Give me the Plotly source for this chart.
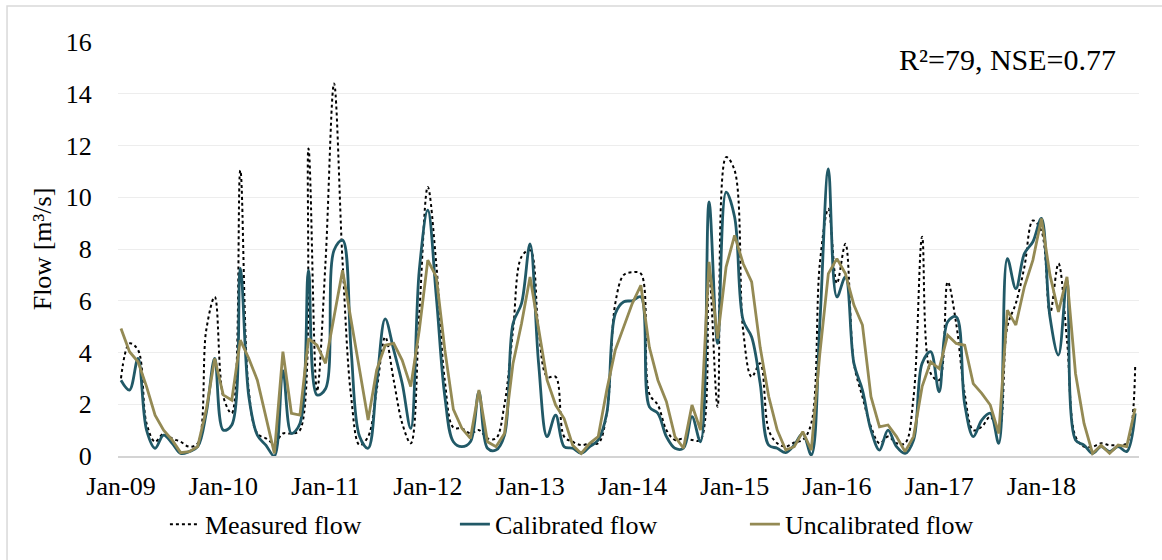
import plotly.graph_objects as go

# Monthly flow, Jan-2009 .. Dec-2018 (index 0 = Jan-09)
months = list(range(120))
year_labels = ["Jan-09", "Jan-10", "Jan-11", "Jan-12", "Jan-13",
               "Jan-14", "Jan-15", "Jan-16", "Jan-17", "Jan-18"]
year_ticks = [0, 12, 24, 36, 48, 60, 72, 84, 96, 108]

measured = [
    3.0, 4.35, 4.1, 1.26, 0.55, 0.87, 0.68, 0.55, 0.36, 0.49, 4.86, 6.15,
    2.3, 1.65, 11.04, 2.5, 0.87, 0.68, 0.5, 0.87, 0.87, 1.0, 11.88, 2.5,
    7.5, 14.4, 7.5, 2.3, 0.42, 0.75, 2.55, 4.6, 2.93, 1.26, 0.49, 5.5,
    10.4, 7.4, 2.9, 1.1, 1.07, 0.87, 1.0, 0.68, 0.68, 2.0, 4.86, 7.7,
    7.95, 4.86, 3.06, 3.06, 0.75, 0.55, 0.42, 0.49, 0.49, 1.65, 5.9, 7.0,
    7.1, 7.05, 2.4, 1.97, 1.0, 0.62, 0.68, 0.62, 0.62, 7.0, 1.9, 11.55,
    11.04, 4.86, 3.06, 3.58, 1.0, 0.49, 0.36, 0.52, 0.62, 1.26, 7.44, 9.56,
    6.67, 8.2, 3.58, 2.29, 1.13, 0.49, 0.75, 0.49, 0.49, 2.29, 8.47, 3.2,
    2.93, 6.73, 5.12, 2.4, 1.0, 1.13, 1.52, 1.0, 5.0, 5.9, 7.3, 9.1,
    8.7, 5.5, 7.44, 4.48, 0.75, 0.36, 0.36, 0.49, 0.42, 0.42, 0.49, 3.45,
]

calibrated = [
    2.93, 2.55, 3.77, 1.0, 0.3, 0.81, 0.49, 0.1, 0.17, 0.36, 1.65, 3.77,
    1.0, 1.2, 7.25, 2.3, 0.81, 0.42, 0.0, 3.3, 0.87, 1.26, 7.18, 2.36,
    2.6, 7.95, 8.34, 4.1, 0.75, 0.3, 2.8, 5.3, 4.1, 2.8, 1.07, 7.18,
    9.5, 6.15, 2.3, 0.55, 0.36, 0.55, 2.48, 0.3, 0.23, 0.81, 5.12, 5.9,
    8.2, 3.58, 0.75, 1.58, 0.36, 0.3, 0.1, 0.36, 0.62, 1.65, 5.5, 5.96,
    6.0, 6.15, 1.9, 1.65, 0.75, 0.3, 0.3, 1.52, 0.55, 9.82, 4.35, 10.2,
    9.24, 5.25, 4.6, 2.8, 0.42, 0.3, 0.13, 0.42, 0.87, 0.04, 5.12, 11.1,
    6.15, 6.92, 3.58, 2.55, 1.0, 0.23, 1.0, 0.36, 0.1, 0.62, 3.58, 4.03,
    2.48, 5.19, 5.38, 2.0, 0.75, 1.39, 1.65, 0.49, 7.63, 6.47, 7.82, 8.28,
    9.18, 5.38, 3.9, 6.8, 0.62, 0.42, 0.1, 0.36, 0.17, 0.36, 0.17, 1.65,
]

uncalibrated = [
    4.93, 4.03, 3.64, 2.68, 1.58, 1.0, 0.62, 0.13, 0.17, 0.36, 1.78, 3.77,
    2.36, 2.16, 4.48, 3.77, 2.93, 1.52, 0.1, 4.03, 1.65, 1.58, 4.54, 4.28,
    3.58, 5.38, 7.18, 5.25, 3.32, 1.39, 3.32, 4.28, 4.35, 3.7, 2.68, 4.86,
    7.57, 6.92, 4.1, 1.8, 1.07, 0.68, 2.55, 0.55, 0.36, 0.87, 3.58, 5.12,
    6.92, 5.0, 2.93, 1.97, 1.45, 0.42, 0.1, 0.49, 0.75, 2.55, 4.1, 5.0,
    5.9, 6.6, 4.2, 2.93, 2.1, 0.75, 0.3, 1.97, 1.0, 7.5, 4.54, 7.3,
    8.53, 7.44, 6.73, 4.2, 2.3, 1.0, 0.23, 0.36, 0.94, 0.23, 3.96, 7.05,
    7.63, 7.05, 5.83, 5.06, 2.29, 1.13, 1.2, 0.75, 0.17, 0.75, 2.68, 3.64,
    3.38, 4.67, 4.35, 4.28, 2.8, 2.42, 1.97, 0.87, 5.64, 5.06, 6.54, 7.57,
    9.18, 7.0, 5.57, 6.92, 3.19, 1.26, 0.1, 0.42, 0.1, 0.42, 0.36, 1.84,
]

SERIF = "Liberation Serif"
TEAL = "#215967"
OLIVE = "#948A54"

fig = go.Figure()
fig.add_trace(go.Scatter(
    x=months, y=measured, name="Measured flow", mode="lines",
    line=dict(color="#000000", width=2, dash="dot", shape="spline", smoothing=1),
))
fig.add_trace(go.Scatter(
    x=months, y=calibrated, name="Calibrated flow", mode="lines",
    line=dict(color=TEAL, width=2.8, shape="spline", smoothing=1),
))
fig.add_trace(go.Scatter(
    x=months, y=uncalibrated, name="Uncalibrated flow", mode="lines",
    line=dict(color=OLIVE, width=2.8, shape="linear"),
))

fig.update_layout(
    width=1162, height=560,
    margin=dict(l=118, r=23, t=42, b=104),
    paper_bgcolor="white", plot_bgcolor="white",
    font=dict(size=26),
    showlegend=True,
    legend=dict(
        orientation="h", x=0.472, xanchor="center", y=-0.165, yanchor="middle",
        font=dict(family=SERIF, size=26, color="#000000"),
        entrywidth=245, entrywidthmode="pixels",
        bgcolor="rgba(0,0,0,0)",
    ),
    xaxis=dict(
        range=[-0.35, 119.45], tickmode="array", tickvals=year_ticks,
        ticktext=year_labels, showgrid=False, zeroline=False,
        showline=True, linecolor="#D4D4D4", linewidth=2,
        ticks="outside", ticklen=6, tickcolor="rgba(0,0,0,0)",
        tickfont=dict(family=SERIF, size=26, color="#000000"),
    ),
    yaxis=dict(
        range=[0, 16], dtick=2, showgrid=True, gridcolor="#EDEDED", gridwidth=1,
        zeroline=False, showline=False,
        ticks="outside", ticklen=20, tickcolor="rgba(0,0,0,0)",
        tickfont=dict(family=SERIF, size=26, color="#000000"),
        title=dict(text="Flow [m³/s]", standoff=6,
                   font=dict(family=SERIF, size=26, color="#000000")),
    ),
    annotations=[dict(
        text="R²=79, NSE=0.77", xref="paper", yref="paper",
        x=0.979, y=0.958, xanchor="right", yanchor="middle", showarrow=False,
        font=dict(family=SERIF, size=30, color="#000000"),
    )],
    shapes=[dict(
        type="rect", xref="paper", yref="paper",
        x0=-0.1087, x1=1.2, y0=-0.5, y1=1.087,
        line=dict(color="#D9D9D9", width=1.5), fillcolor="rgba(0,0,0,0)", layer="below",
    )],
)

fig.write_html("out.html")
